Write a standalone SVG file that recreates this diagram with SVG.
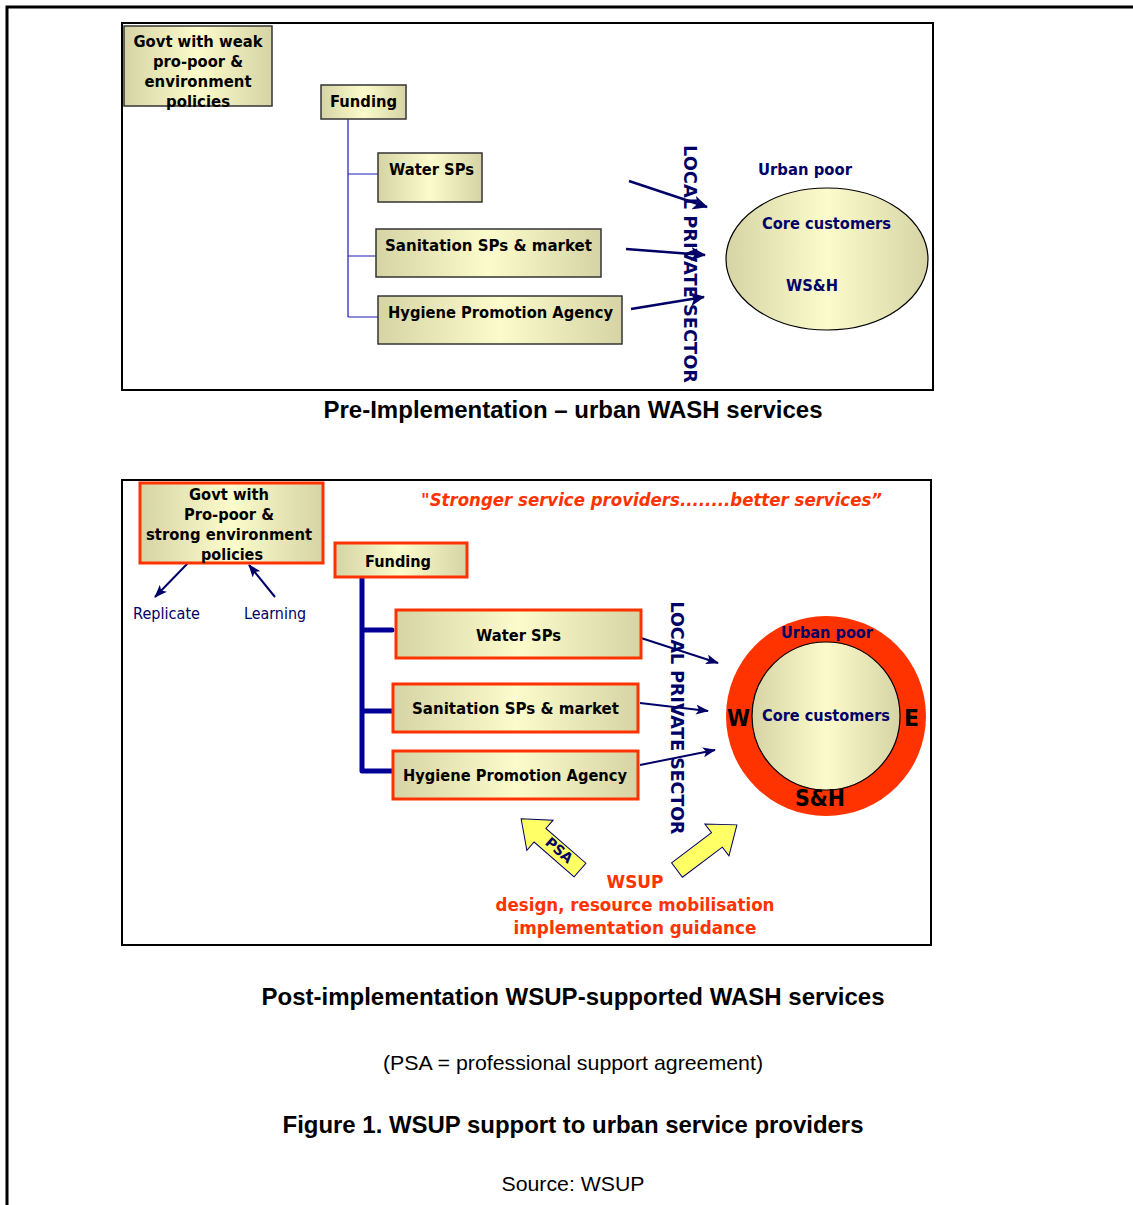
<svg xmlns="http://www.w3.org/2000/svg" width="1133" height="1205" viewBox="0 0 1133 1205">
<style>
.lbl{font-family:"DejaVu Sans","Verdana",sans-serif;font-weight:bold;font-size:15px;fill:#000}
.nav{font-family:"DejaVu Sans","Verdana",sans-serif;font-weight:bold;font-size:15px;fill:#000066}
.reg{font-family:"DejaVu Sans","Verdana",sans-serif;font-size:15px;fill:#000066}
.red{font-family:"DejaVu Sans","Verdana",sans-serif;font-weight:bold;font-size:17px;fill:#ff3300}
.big{font-family:"DejaVu Sans","Verdana",sans-serif;font-weight:bold;font-size:23px;fill:#000}
.vert{font-family:"DejaVu Sans","Verdana",sans-serif;font-weight:bold;font-size:17px;fill:#000066}
.ttl{font-family:"Liberation Sans",Arial,sans-serif;font-weight:bold;font-size:24px;fill:#000}
.cap{font-family:"Liberation Sans",Arial,sans-serif;font-size:21px;fill:#000}
.box1{fill:url(#g);stroke:#333;stroke-width:1.5}
.box2{fill:url(#g);stroke:#ff3300;stroke-width:3}
.ar1{stroke:#000066;stroke-width:2.5;fill:none}
.ar2{stroke:#000066;stroke-width:2;fill:none}
.yel{fill:#ffff66;stroke:#000066;stroke-width:1}
</style>
<defs>
<linearGradient id="g" x1="0" y1="0" x2="1" y2="0">
<stop offset="0" stop-color="#d6d4a4"/>
<stop offset="0.5" stop-color="#fcfbcc"/>
<stop offset="1" stop-color="#d6d4a4"/>
</linearGradient>
<marker id="mh1" markerUnits="userSpaceOnUse" markerWidth="16" markerHeight="14" refX="14" refY="7" orient="auto">
<path d="M0,0 L15,7 L0,14 L4,7 Z" fill="#000066"/>
</marker>
<marker id="mh2" markerUnits="userSpaceOnUse" markerWidth="14" markerHeight="10" refX="12" refY="5" orient="auto">
<path d="M0,0 L13,5 L0,10 L3,5 Z" fill="#000066"/>
</marker>
</defs>
<rect width="1133" height="1205" fill="#fff"/>
<!-- page border -->
<path d="M7,1205 V7 H1133" fill="none" stroke="#000" stroke-width="3"/>

<!-- ============ Panel 1 ============ -->
<rect x="122" y="23" width="811" height="367" fill="#fff" stroke="#000" stroke-width="2"/>

<g id="connectors1">
<path d="M348,119 V317 M348,174 H378 M348,256 H376 M348,317 H378" stroke="#1a1abb" stroke-width="1.2" fill="none"/>
<line class="ar1" x1="629" y1="181" x2="707" y2="207" marker-end="url(#mh1)"/>
<line class="ar1" x1="626" y1="249" x2="705" y2="255" marker-end="url(#mh1)"/>
<line class="ar1" x1="631" y1="309" x2="704" y2="297" marker-end="url(#mh1)"/>
</g>

<g id="p1-govt">
<rect class="box1" x="124" y="26" width="148" height="80"/>
<text class="lbl" text-anchor="middle" x="198" y="47" textLength="129" lengthAdjust="spacingAndGlyphs">Govt with weak</text>
<text class="lbl" text-anchor="middle" x="198" y="67" textLength="90" lengthAdjust="spacingAndGlyphs">pro-poor &amp;</text>
<text class="lbl" text-anchor="middle" x="198" y="87" textLength="107" lengthAdjust="spacingAndGlyphs">environment</text>
<text class="lbl" text-anchor="middle" x="198" y="107" textLength="64" lengthAdjust="spacingAndGlyphs">policies</text>
</g>
<g id="p1-funding">
<rect class="box1" x="321" y="85" width="85" height="34"/>
<text class="lbl" x="330" y="107" textLength="67" lengthAdjust="spacingAndGlyphs">Funding</text>
</g>
<g id="p1-water">
<rect class="box1" x="378" y="153" width="104" height="49"/>
<text class="lbl" x="389" y="175" textLength="85" lengthAdjust="spacingAndGlyphs">Water SPs</text>
</g>
<g id="p1-sanitation">
<rect class="box1" x="376" y="229" width="225" height="48"/>
<text class="lbl" x="385" y="251" textLength="207" lengthAdjust="spacingAndGlyphs">Sanitation  SPs &amp; market</text>
</g>
<g id="p1-hygiene">
<rect class="box1" x="378" y="296" width="244" height="48"/>
<text class="lbl" x="388" y="318" textLength="225" lengthAdjust="spacingAndGlyphs">Hygiene Promotion Agency</text>
</g>
<g id="p1-lps">
<text class="vert" text-anchor="middle" transform="translate(684,264) rotate(90)" textLength="238" lengthAdjust="spacingAndGlyphs">LOCAL PRIVATE SECTOR</text>
</g>
<g id="p1-urban">
<text class="nav" x="758" y="175" textLength="94" lengthAdjust="spacingAndGlyphs">Urban poor</text>
<ellipse cx="827" cy="259" rx="101" ry="71" fill="url(#g)" stroke="#000" stroke-width="1.2"/>
<text class="nav" x="762" y="229" textLength="129" lengthAdjust="spacingAndGlyphs">Core customers</text>
<text class="nav" x="786" y="291" textLength="52" lengthAdjust="spacingAndGlyphs">WS&amp;H</text>
</g>
<text class="ttl" x="573" y="418" text-anchor="middle" textLength="499" lengthAdjust="spacingAndGlyphs">Pre-Implementation – urban WASH services</text>

<!-- ============ Panel 2 ============ -->
<rect x="122" y="480" width="809" height="465" fill="#fff" stroke="#000" stroke-width="2"/>

<g id="connectors2">
<path d="M362,577 V771 M362,630 H392 M362,711 H392 M362,771 H392" stroke="#000099" stroke-width="5" fill="none" stroke-linecap="round"/>
<line class="ar2" x1="188" y1="563" x2="155" y2="597" marker-end="url(#mh2)"/>
<line class="ar2" x1="275" y1="597" x2="249" y2="565" marker-end="url(#mh2)"/>
<line class="ar2" x1="641" y1="638" x2="718" y2="663" marker-end="url(#mh2)"/>
<line class="ar2" x1="640" y1="703" x2="708" y2="711" marker-end="url(#mh2)"/>
<line class="ar2" x1="640" y1="765" x2="715" y2="750" marker-end="url(#mh2)"/>
<path class="yel" transform="translate(580,870) rotate(221)" d="M0,-9 L53,-9 L53,-20 L78,0 L53,20 L53,9 L0,9 Z"/>
<path class="yel" transform="translate(677,870) rotate(-37)" d="M0,-9 L50,-9 L50,-20 L75,0 L50,20 L50,9 L0,9 Z"/>
<text class="nav" style="font-size:14px" text-anchor="middle" transform="translate(556,854) rotate(41)">PSA</text>
</g>

<g id="p2-govt">
<rect class="box2" x="140" y="483" width="183" height="80"/>
<text class="lbl" text-anchor="middle" x="229" y="500" textLength="80" lengthAdjust="spacingAndGlyphs">Govt with</text>
<text class="lbl" text-anchor="middle" x="229" y="520" textLength="90" lengthAdjust="spacingAndGlyphs">Pro-poor &amp;</text>
<text class="lbl" text-anchor="middle" x="229" y="540" textLength="166" lengthAdjust="spacingAndGlyphs">strong environment</text>
<text class="lbl" text-anchor="middle" x="232" y="560" textLength="62" lengthAdjust="spacingAndGlyphs">policies</text>
</g>
<g id="p2-replicate"><text class="reg" x="133" y="619" textLength="67" lengthAdjust="spacingAndGlyphs">Replicate</text></g>
<g id="p2-learning"><text class="reg" x="244" y="619" textLength="62" lengthAdjust="spacingAndGlyphs">Learning</text></g>
<g id="p2-quote">
<text class="red" style="font-style:italic" x="421" y="506" textLength="461" lengthAdjust="spacingAndGlyphs">"Stronger service providers........better services”</text>
</g>
<g id="p2-funding">
<rect class="box2" x="335" y="543" width="132" height="34"/>
<text class="lbl" x="365" y="567" textLength="66" lengthAdjust="spacingAndGlyphs">Funding</text>
</g>
<g id="p2-water">
<rect class="box2" x="396" y="610" width="245" height="48"/>
<text class="lbl" x="476" y="641" textLength="85" lengthAdjust="spacingAndGlyphs">Water SPs</text>
</g>
<g id="p2-sanitation">
<rect class="box2" x="393" y="684" width="245" height="48"/>
<text class="lbl" x="412" y="714" textLength="207" lengthAdjust="spacingAndGlyphs">Sanitation  SPs &amp; market</text>
</g>
<g id="p2-hygiene">
<rect class="box2" x="393" y="751" width="245" height="48"/>
<text class="lbl" x="403" y="781" textLength="224" lengthAdjust="spacingAndGlyphs">Hygiene Promotion Agency</text>
</g>
<g id="p2-lps">
<text class="vert" text-anchor="middle" transform="translate(671,718) rotate(90)" textLength="233" lengthAdjust="spacingAndGlyphs">LOCAL PRIVATE SECTOR</text>
</g>
<g id="p2-urban">
<circle cx="826" cy="716" r="100" fill="#ff3300"/>
<circle cx="826" cy="716" r="74" fill="url(#g)" stroke="#000" stroke-width="1.2"/>
<text class="nav" x="781" y="638" textLength="92" lengthAdjust="spacingAndGlyphs">Urban poor</text>
<text class="nav" x="762" y="721" textLength="128" lengthAdjust="spacingAndGlyphs">Core customers</text>
<text class="big" x="727" y="726" textLength="23" lengthAdjust="spacingAndGlyphs">W</text>
<text class="big" x="904" y="726" textLength="15" lengthAdjust="spacingAndGlyphs">E</text>
<text class="big" x="795" y="806" textLength="50" lengthAdjust="spacingAndGlyphs">S&amp;H</text>
</g>
<g id="p2-wsup">
<text class="red" text-anchor="middle" x="635" y="888" textLength="57" lengthAdjust="spacingAndGlyphs">WSUP</text>
<text class="red" text-anchor="middle" x="635" y="911" textLength="279" lengthAdjust="spacingAndGlyphs">design, resource mobilisation</text>
<text class="red" text-anchor="middle" x="635" y="934" textLength="243" lengthAdjust="spacingAndGlyphs">implementation guidance</text>
</g>

<text class="ttl" x="573" y="1005" text-anchor="middle" textLength="623" lengthAdjust="spacingAndGlyphs">Post-implementation WSUP-supported WASH services</text>
<text class="cap" x="573" y="1070" text-anchor="middle" textLength="380" lengthAdjust="spacingAndGlyphs">(PSA = professional support agreement)</text>
<text class="ttl" x="573" y="1133" text-anchor="middle" textLength="581" lengthAdjust="spacingAndGlyphs">Figure 1. WSUP support to urban service providers</text>
<text class="cap" x="573" y="1191" text-anchor="middle" textLength="143" lengthAdjust="spacingAndGlyphs">Source: WSUP</text>
</svg>
